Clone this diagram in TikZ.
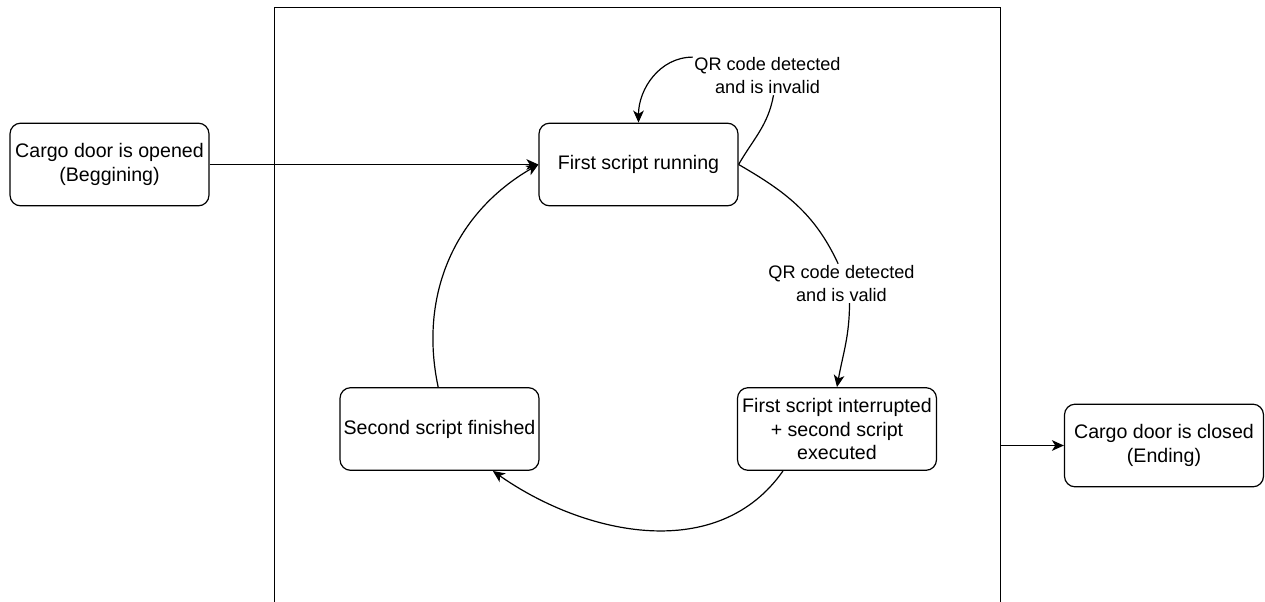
\documentclass[tikz,border=0pt]{standalone}
\usepackage{fontspec}
\setmainfont{Liberation Sans}
\usetikzlibrary{arrows.meta}
\begin{document}
\begin{tikzpicture}[x=0.75pt,y=0.75pt,
  state/.style={draw, rounded corners=8pt, line width=0.9pt,
    minimum width=149.25pt, minimum height=62pt, inner sep=1pt,
    align=center, font=\fontsize{14.7}{17.6}\selectfont},
  elabel/.style={inner sep=1pt, align=center,
    font=\fontsize{13.6}{17.2}\selectfont},
  link/.style={line width=0.9pt},
  arr/.style={link, -{Stealth[length=9pt,width=8pt,inset=2.5pt]}}]
\useasboundingbox (0,0) rectangle (1265,-601);
\clip (0,0) rectangle (1265,-601);

% enclosing frame (runs past the lower edge)
\node[draw, line width=1.1pt, minimum width=544.5pt, minimum height=600pt,
      anchor=north west, inner sep=0pt] (frame) at (274,-7) {};

% states
\node[state] (open)   at (109.5,-164.5) {Cargo door is opened\\(Beggining)};
\node[state] (first)  at (638.5,-164.5) {First script running};
\node[state] (intr)   at (837,-429)     {First script interrupted\\+ second script\\executed};
\node[state] (second) at (439.5,-429)   {Second script finished};
\node[state] (closed) at (1164,-445.5)  {Cargo door is closed\\(Ending)};

% transition labels
\node[elabel] (inv)   at (767.5,-75.5)  {QR code detected\\and is invalid};
\node[elabel] (valid) at (841.5,-283.5) {QR code detected\\and is valid};

% transitions
\draw[arr] (open.east) -- (first.west);

\draw[link] (first.east) to[out=60,in=-100] ([xshift=4.5pt]inv.south);
\draw[arr] ([yshift=-1pt]inv.north west) to[out=180,in=90] (first.north);

\draw[link] (first.east) to[out=-30,in=115] ([xshift=-2.5pt]valid.north);
\draw[arr] ([xshift=6pt]valid.south) to[out=-90,in=80] (intr.north);

\draw[arr] ([xshift=-40.5pt]intr.south) to[out=-125,in=-35] ([xshift=40pt]second.south);
\draw[arr] ([xshift=-1pt]second.north) to[out=102,in=-150] (first.west);

\draw[arr] (closed.west -| frame.east) -- (closed.west);
\end{tikzpicture}
\end{document}
